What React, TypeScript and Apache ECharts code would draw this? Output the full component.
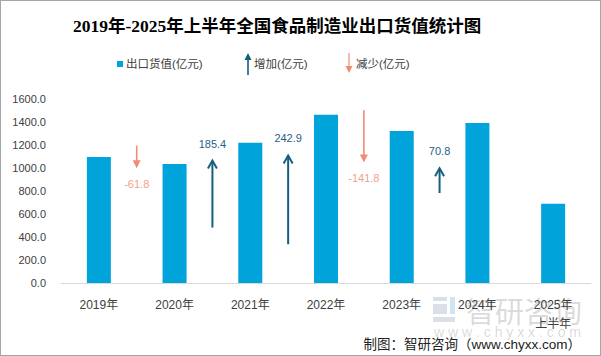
import React, { useEffect, useRef } from "react";
import * as echarts from "echarts";

const categories = ["2019年", "2020年", "2021年", "2022年", "2023年", "2024年", "2025年\n上半年"];
const exportValues = [1096.4, 1034.6, 1220.0, 1462.9, 1321.1, 1391.9, 689.0];
const yTicks = [0, 200, 400, 600, 800, 1000, 1200, 1400, 1600];

// increase arrows: gap index (between category i and i+1), arrow tail, arrow head, label
const incGap = [1, 2, 4];
const incFrom = [482, 337, 782];
const incTo = [1065, 1109, 997];
const incLabel = ["185.4", "242.9", "70.8"];

// decrease arrows
const decGap = [0, 3];
const decFrom = [1195, 1503];
const decTo = [1006, 1057];
const decLabel = ["-61.8", "-141.8"];

const BAR = "#00A3DA";
const INC = "#155F7E";
const INC_TXT = "#1F5F86";
const DEC = "#F08C72";
const DEC_TXT = "#F2A08C";
const FONT = "'Liberation Sans', 'Noto Sans CJK SC', sans-serif";

function arrowItem(up: boolean) {
  return (params: any, api: any) => {
    const gap = api.value(0);
    const from = api.coord([gap, api.value(1)]);
    const to = api.coord([gap, api.value(2)]);
    const band = api.size([1, 0])[0];
    const x = from[0] + band / 2;
    const y1 = from[1];
    const y2 = to[1];
    const color = up ? INC : DEC;
    const dir = up ? 1 : -1;
    const label = up ? incLabel[params.dataIndex] : decLabel[params.dataIndex];
    const children: any[] = [
      {
        type: "line",
        shape: { x1: x, y1: y1, x2: x, y2: y2 + dir * 1 },
        style: { stroke: color, lineWidth: up ? 2 : 1.6 },
      },
    ];
    if (up) {
      children.push({
        type: "polyline",
        shape: { points: [[x - 4.5, y2 + 8], [x, y2], [x + 4.5, y2 + 8]] },
        style: { stroke: color, lineWidth: 2, fill: "none" },
      });
    } else {
      children.push({
        type: "polygon",
        shape: { points: [[x - 4, y2 - 7], [x, y2 + 1], [x + 4, y2 - 7]] },
        style: { fill: color },
      });
    }
    children.push({
      type: "text",
      style: {
        text: label,
        x: x,
        y: up ? y2 - 17 : y2 + 17,
        align: "center",
        verticalAlign: "middle",
        fill: up ? INC_TXT : DEC_TXT,
        font: `11px ${FONT}`,
      },
    });
    return { type: "group", children };
  };
}

export default function App() {
  const ref = useRef<HTMLDivElement>(null);
  useEffect(() => {
    if (!ref.current) return;
    const chart = echarts.init(ref.current, null, { renderer: "svg" });
    chart.setOption({
      animation: false,
      backgroundColor: "#ffffff",
      title: {
        text: "2019年-2025年上半年全国食品制造业出口货值统计图",
        left: 67,
        top: 11,
        textStyle: {
          fontSize: 17.5,
          fontWeight: "bold",
          color: "#000000",
          fontFamily: "'Liberation Serif', 'Noto Sans CJK SC', serif",
        },
      },
      grid: { left: 60, right: 9, top: 98, bottom: 72 },
      xAxis: {
        type: "category",
        data: categories,
        axisTick: { show: false },
        axisLine: { lineStyle: { color: "#D9D9D9", width: 1 } },
        axisLabel: {
          color: "#404040",
          fontSize: 12,
          fontFamily: FONT,
          margin: 12,
          lineHeight: 19,
          interval: 0,
        },
      },
      yAxis: {
        type: "value",
        min: yTicks[0],
        max: yTicks[yTicks.length - 1],
        interval: 200,
        splitLine: { show: false },
        axisLine: { show: false },
        axisTick: { show: false },
        axisLabel: {
          color: "#404040",
          fontSize: 11,
          fontFamily: FONT,
          margin: 15,
          formatter: (v: number) => v.toFixed(1),
        },
      },
      series: [
        {
          name: "出口货值(亿元)",
          type: "bar",
          data: exportValues,
          barWidth: 24,
          itemStyle: { color: BAR },
        },
        {
          name: "增加(亿元)",
          type: "custom",
          renderItem: arrowItem(true),
          data: incGap.map((g, i) => [g, incFrom[i], incTo[i]]),
          z: 5,
        },
        {
          name: "减少(亿元)",
          type: "custom",
          renderItem: arrowItem(false),
          data: decGap.map((g, i) => [g, decFrom[i], decTo[i]]),
          z: 5,
        },
      ],
      graphic: [
        // legend
        { type: "rect", shape: { x: 116, y: 60, width: 6, height: 6 }, style: { fill: BAR } },
        { type: "text", style: { text: "出口货值(亿元)", x: 125, y: 63, verticalAlign: "middle", fill: "#404040", font: `11.5px ${FONT}` } },
        { type: "line", shape: { x1: 247, y1: 74, x2: 247, y2: 58 }, style: { stroke: INC, lineWidth: 1.6 } },
        { type: "polygon", shape: { points: [[243.5, 59], [247, 52], [250.5, 59]] }, style: { fill: INC } },
        { type: "text", style: { text: "增加(亿元)", x: 253, y: 63, verticalAlign: "middle", fill: "#404040", font: `11.5px ${FONT}` } },
        { type: "line", shape: { x1: 348, y1: 52, x2: 348, y2: 66 }, style: { stroke: DEC, lineWidth: 1.2 } },
        { type: "polygon", shape: { points: [[344.5, 65], [348, 72], [351.5, 65]] }, style: { fill: DEC } },
        { type: "text", style: { text: "减少(亿元)", x: 355, y: 63, verticalAlign: "middle", fill: "#404040", font: `11.5px ${FONT}` } },
        // watermark
        { type: "rect", shape: { x: 432, y: 296, width: 14, height: 4 }, style: { fill: "rgba(150,165,190,0.35)" } },
        { type: "rect", shape: { x: 432, y: 303, width: 14, height: 10 }, style: { fill: "rgba(150,165,190,0.35)" } },
        { type: "rect", shape: { x: 449, y: 296, width: 5, height: 17 }, style: { fill: "rgba(120,180,220,0.35)" } },
        { type: "rect", shape: { x: 432, y: 316, width: 22, height: 5 }, style: { fill: "rgba(150,165,190,0.35)" } },
        { type: "text", style: { text: "智研咨询", x: 465, y: 309, verticalAlign: "middle", fill: "rgba(140,140,140,0.33)", font: `29px 'Noto Sans CJK SC', sans-serif` } },
        { type: "text", style: { text: "w w w . c h y x x . c o m", x: 433, y: 331, verticalAlign: "middle", fill: "rgba(140,140,140,0.33)", font: `14px ${FONT}` } },
        // source
        { type: "text", style: { text: "制图：智研咨询（www.chyxx.com）", x: 580, y: 343, align: "right", verticalAlign: "middle", fill: "#222222", font: `13.5px ${FONT}` } },
      ],
    });
    return () => chart.dispose();
  }, []);
  return (
    <div
      ref={ref}
      style={{
        width: 601,
        height: 356,
        boxSizing: "border-box",
        border: "1px solid #A6A6A6",
        position: "absolute",
        left: 0,
        top: 0,
      }}
    />
  );
}
